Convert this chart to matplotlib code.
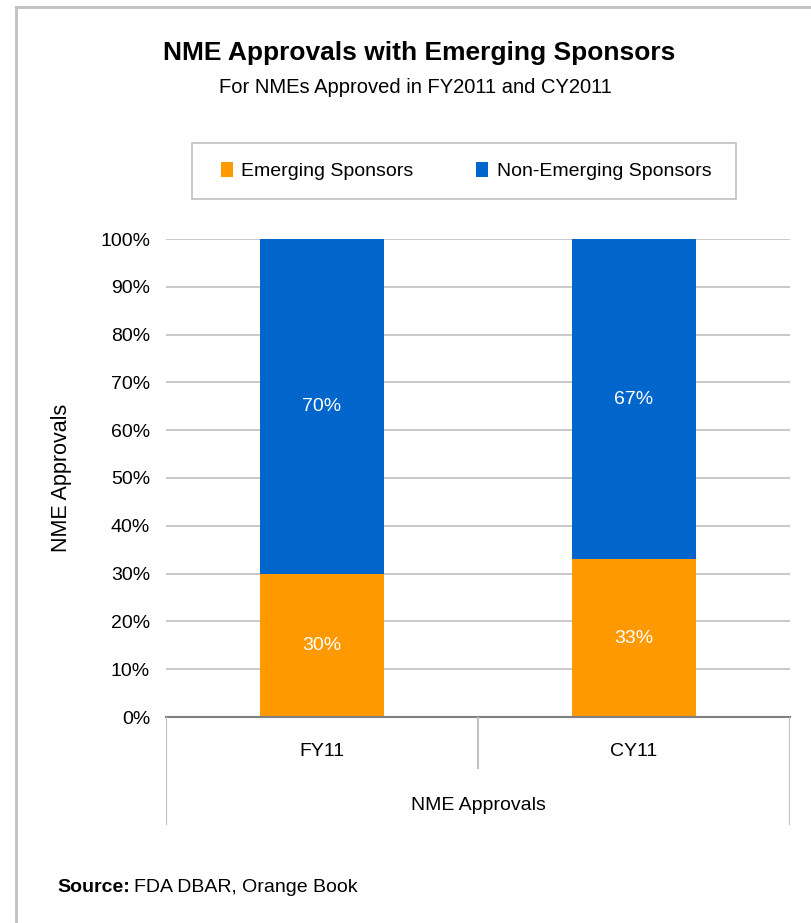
import numpy as np
import matplotlib
matplotlib.use('Agg')
import matplotlib.pyplot as plt
from matplotlib.lines import Line2D
from matplotlib.patches import Rectangle

categories = ['FY11', 'CY11']
emerging = [30, 33]
non_emerging = [70, 67]
series_names = ['Emerging Sponsors', 'Non-Emerging Sponsors']
yticks = [0, 10, 20, 30, 40, 50, 60, 70, 80, 90, 100]

ORANGE = '#FF9900'
BLUE = '#0066CC'
GRID = '#C0C0C0'

plt.rcParams['font.family'] = ['Liberation Sans', 'DejaVu Sans']

W, H = 811, 923
fig = plt.figure(figsize=(W / 100, H / 100), dpi=100)


def fx(px):
    return px / W


def fy(py):
    return 1 - py / H


# outer frame (only left and top edges are in the picture)
fig.add_artist(Line2D([fx(16), fx(16)], [fy(7), fy(923)], color=GRID, lw=2))
fig.add_artist(Line2D([fx(16), fx(811)], [fy(7), fy(7)], color=GRID, lw=2))

ax = fig.add_axes([fx(166), fy(717), fx(790) - fx(166), fy(239) - fy(717)])
x = np.arange(len(categories))
bw = 0.40
ax.bar(x, emerging, bw, color=ORANGE, label=series_names[0], zorder=3)
ax.bar(x, non_emerging, bw, bottom=emerging, color=BLUE, label=series_names[1], zorder=3)

for i in range(len(categories)):
    ax.text(x[i], emerging[i] / 2, '%d%%' % emerging[i], ha='center', va='center',
            color='white', fontsize=14, zorder=4)
    ax.text(x[i], emerging[i] + non_emerging[i] / 2, '%d%%' % non_emerging[i], ha='center',
            va='center', color='white', fontsize=14, zorder=4)

ax.set_xlim(-0.5, 1.5)
ax.set_ylim(0, 100)
ax.set_yticks(yticks)
ax.set_yticklabels(['%d%%' % v for v in yticks], fontsize=14)
ax.tick_params(axis='y', length=0, pad=11.5)
ax.set_xticks([])
ax.yaxis.grid(True, color=GRID, lw=1.2, zorder=0)
for s in ['top', 'right', 'left']:
    ax.spines[s].set_visible(False)
ax.spines['bottom'].set_color('#808080')
ax.spines['bottom'].set_linewidth(1.5)
ax.spines['bottom'].set_zorder(5)

fig.text(fx(62), fy(478), 'NME Approvals', rotation=90, ha='center', va='center', fontsize=15.5)

# category box below the axis
cat = fig.add_axes([fx(166), fy(825), fx(790) - fx(166), fy(717) - fy(825)])
cat.set_xlim(-0.5, 1.5)
cat.set_ylim(0, 1)
cat.axis('off')
cat.plot([-0.5, -0.5], [0, 1], color=GRID, lw=1.5)
cat.plot([1.5, 1.5], [0, 1], color=GRID, lw=1.5)
cat.plot([0.5, 0.5], [(825 - 768) / 108, 1], color=GRID, lw=1.5)
for i, c in enumerate(categories):
    cat.text(x[i], (825 - 752) / 108, c, ha='center', va='center', fontsize=14)
cat.text(0.5, (825 - 805) / 108, 'NME Approvals', ha='center', va='center', fontsize=14)

fig.text(fx(419), fy(53), 'NME Approvals with Emerging Sponsors', ha='center', va='center',
         fontsize=19, fontweight='bold')
fig.text(fx(415), fy(87), 'For NMEs Approved in FY2011 and CY2011', ha='center', va='center',
         fontsize=14.5)

# legend with a hand-drawn frame
fig.add_artist(Rectangle((fx(192), fy(199)), fx(736) - fx(192), fy(143) - fy(199),
                         transform=fig.transFigure, fill=False, edgecolor=GRID, lw=1.2))
handles, labels = ax.get_legend_handles_labels()
leg = fig.legend(handles, labels, loc='center', bbox_to_anchor=(fx(466), fy(171)), ncol=2,
                 fontsize=14, frameon=False, handlelength=0.62, handleheight=0.85,
                 handletextpad=0.45, columnspacing=3.2)

src = fig.text(fx(57), fy(888), 'Source:', ha='left', va='center', fontsize=14, fontweight='bold')
ax.annotate('FDA DBAR, Orange Book', xy=(1, 0.5), xycoords=src, xytext=(3, 0),
            textcoords='offset points', ha='left', va='center', fontsize=14)

fig.savefig('out.png', dpi=100)
